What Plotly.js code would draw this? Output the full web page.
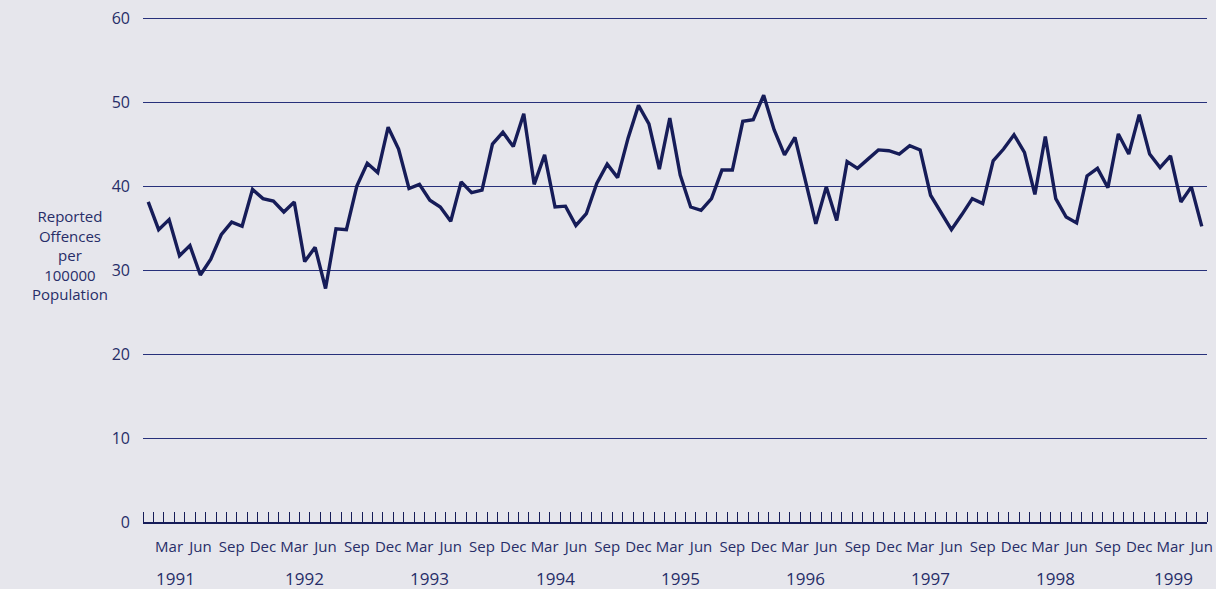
<!DOCTYPE html>
<html>
<head>
<meta charset="utf-8">
<script src="https://cdn.plot.ly/plotly-3.0.1.min.js"></script>
<style>
html,body{margin:0;padding:0;background:#e6e6ec;}
#chart{width:1216px;height:589px;}
</style>
</head>
<body>
<div id="chart"></div>
<script>
// Monthly reported offences per 100000 population, Jan 1991 - Jun 1999
const values1991 = [38.1, 34.8, 36.0, 31.7, 32.9, 29.4, 31.3, 34.2, 35.7, 35.2, 39.6, 38.5];
const values1992 = [38.2, 36.9, 38.1, 31.0, 32.7, 27.8, 34.9, 34.8, 40.0, 42.7, 41.6, 47.0];
const values1993 = [44.4, 39.7, 40.2, 38.3, 37.5, 35.8, 40.5, 39.2, 39.5, 45.0, 46.4, 44.7];
const values1994 = [48.6, 40.2, 43.7, 37.5, 37.6, 35.3, 36.7, 40.3, 42.6, 41.0, 45.7, 49.6];
const values1995 = [47.4, 42.0, 48.1, 41.3, 37.5, 37.1, 38.5, 41.9, 41.9, 47.7, 47.9, 50.8];
const values1996 = [46.7, 43.7, 45.8, 40.7, 35.5, 39.9, 35.9, 42.9, 42.1, 43.2, 44.3, 44.2];
const values1997 = [43.8, 44.8, 44.3, 38.9, 36.8, 34.8, 36.6, 38.5, 37.9, 43.0, 44.4, 46.1];
const values1998 = [44.0, 39.0, 45.9, 38.5, 36.3, 35.6, 41.2, 42.1, 39.8, 46.2, 43.8, 48.5];
const values1999 = [43.8, 42.2, 43.6, 38.1, 39.9, 35.2];

const monthTickLabels = ['Mar', 'Jun', 'Sep', 'Dec'];
const monthTickOffsets = [2, 5, 8, 11];   // month index within year
const yearLabels = ['1991', '1992', '1993', '1994', '1995', '1996', '1997', '1998', '1999'];
const yearLabelMonth = [2.6, 15, 27, 39, 51, 63, 75, 87, 98.3]; // month index where year label sits
const yTickValues = [0, 10, 20, 30, 40, 50, 60];

const values = [].concat(values1991, values1992, values1993, values1994, values1995,
                         values1996, values1997, values1998, values1999);
const monthIndex = values.map((_, i) => i);

const tickvals = [], ticktext = [];
for (let y = 0; y < yearLabels.length; y++) {
  monthTickOffsets.forEach((m, k) => {
    const idx = y * 12 + m;
    if (idx < values.length) { tickvals.push(idx); ticktext.push(monthTickLabels[k]); }
  });
}

const navy = '#161c58';
const textColor = '#272d68';
const font = 'Open Sans, Liberation Sans, sans-serif';

const annotations = yearLabels.map((t, i) => ({
  x: yearLabelMonth[i], xref: 'x', y: -0.111, yref: 'paper',
  text: t, showarrow: false, xanchor: 'center', yanchor: 'middle',
  font: {family: font, size: 17, color: textColor}
}));
annotations.push({
  x: -0.0686, xref: 'paper', y: 0.528, yref: 'paper',
  text: 'Reported<br>Offences<br>per<br>100000<br>Population',
  showarrow: false, xanchor: 'center', yanchor: 'middle', align: 'center',
  font: {family: font, size: 15, color: textColor}
});

const trace = {
  x: monthIndex, y: values, type: 'scatter', mode: 'lines',
  line: {color: navy, width: 3.4, shape: 'linear'},
  hoverinfo: 'skip'
};

const layout = {
  width: 1216, height: 589,
  margin: {l: 143, r: 9, t: 17, b: 67},
  paper_bgcolor: '#e6e6ec', plot_bgcolor: '#e6e6ec',
  showlegend: false,
  font: {family: font, color: textColor, size: 15},
  xaxis: {
    range: [-0.5, values.length - 0.5],
    tickmode: 'array', tickvals: tickvals, ticktext: ticktext,
    ticks: '', showgrid: false, zeroline: false,
    showline: true, linecolor: navy, linewidth: 1.5,
    tickfont: {family: font, size: 15, color: textColor},
    ticklabelstandoff: 10,
    minor: {tick0: -0.5, dtick: 1, ticks: 'inside', ticklen: 10, tickwidth: 1, tickcolor: navy, showgrid: false},
    fixedrange: true
  },
  yaxis: {
    range: [0, 60.12], tickmode: 'array', tickvals: yTickValues,
    showgrid: true, gridcolor: '#27307a', gridwidth: 1,
    zeroline: false, showline: false, ticks: '',
    ticklabelstandoff: 12,
    tickfont: {family: font, size: 16, color: textColor},
    fixedrange: true
  },
  annotations: annotations
};

Plotly.newPlot('chart', [trace], layout, {displayModeBar: false, staticPlot: true});
</script>
</body>
</html>
